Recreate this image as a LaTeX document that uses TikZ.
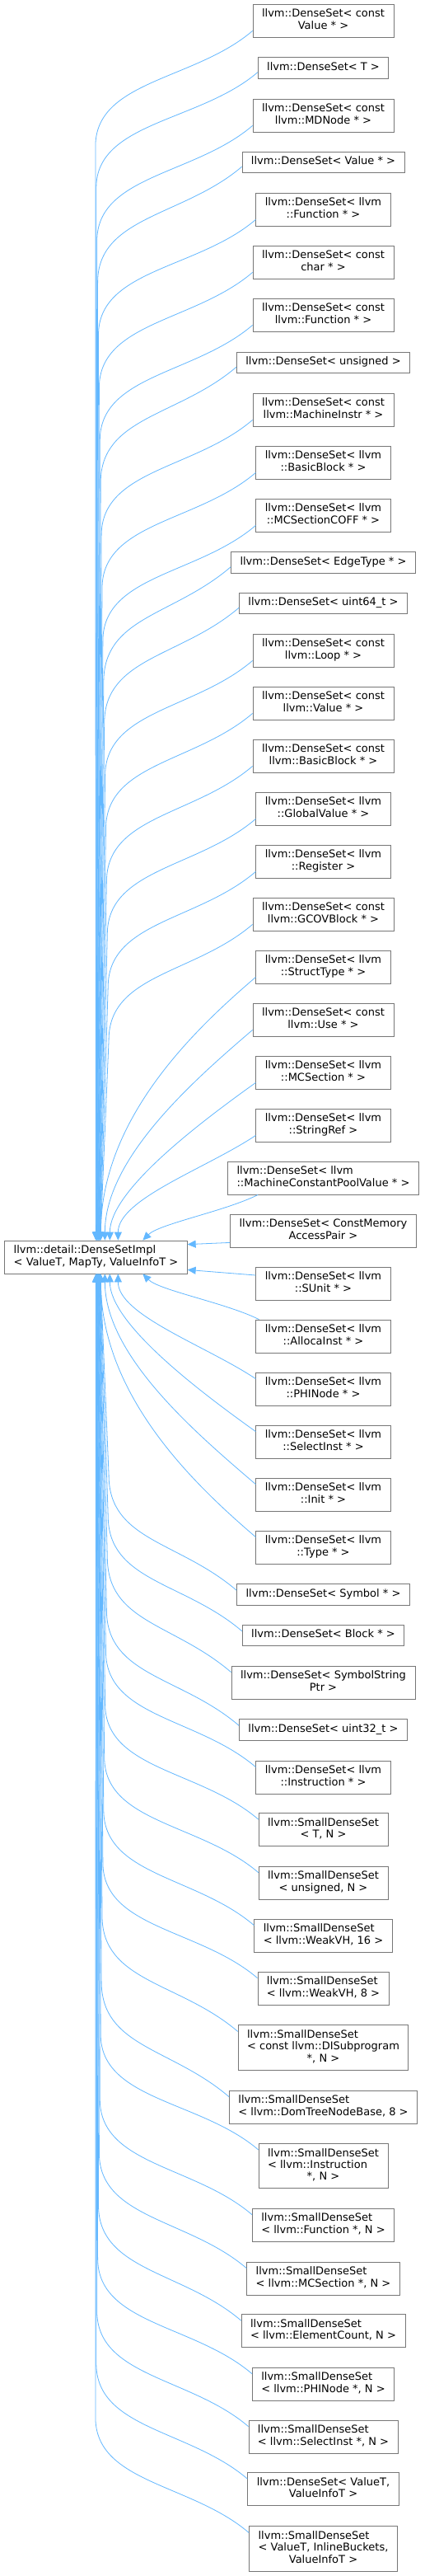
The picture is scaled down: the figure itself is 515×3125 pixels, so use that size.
\documentclass[tikz,border=0pt]{standalone}
\usepackage{fontspec}
\setmainfont{DejaVu Sans}
\usetikzlibrary{arrows.meta,calc}
\definecolor{edgeblue}{HTML}{63B8FF}
\definecolor{boxgray}{HTML}{777777}
\newcommand{\cls}[1]{\begin{tabular}{@{}l@{}}#1\end{tabular}}
\newcommand{\lastln}[1]{\multicolumn{1}{@{}c@{}}{#1}}

\begin{document}
\begin{tikzpicture}[
			x=1pt, y=-1pt,
			every node/.style = {font=\fontsize{13}{14.3}\selectfont},
			klass/.style      = {draw=boxgray, fill=white, line width=0.8pt, inner xsep=11pt, inner ysep=5.7pt},
			inh/.style        = {draw=edgeblue, line width=0.8pt, {Triangle[length=10pt,width=9pt]}-}
			]
			\useasboundingbox[fill=white] (0,0) rectangle (515,3125);
			
			%--- base class ---
			\node[klass] (base) at (116.5,1525) {\cls{llvm::detail::DenseSetImpl\\\lastln{< ValueT, MapTy, ValueInfoT >}}};
			
			%--- derived classes ---
			\node[klass] (d1)  at (392.5,25)   {\cls{llvm::DenseSet< const\\\lastln{Value * >}}};
			\node[klass] (d2)  at (392.5,82.5) {\cls{llvm::DenseSet< T >}};
			\node[klass] (d3)  at (392.5,140)  {\cls{llvm::DenseSet< const\\\lastln{llvm::MDNode * >}}};
			\node[klass] (d4)  at (392.5,197)  {\cls{llvm::DenseSet< Value * >}};
			\node[klass] (d5)  at (392.5,254)  {\cls{llvm::DenseSet< llvm\\\lastln{::Function * >}}};
			\node[klass] (d6)  at (392.5,318)  {\cls{llvm::DenseSet< const\\\lastln{char * >}}};
			\node[klass] (d7)  at (392.5,382)  {\cls{llvm::DenseSet< const\\\lastln{llvm::Function * >}}};
			\node[klass] (d8)  at (392.5,440)  {\cls{llvm::DenseSet< unsigned >}};
			\node[klass] (d9)  at (392.5,497)  {\cls{llvm::DenseSet< const\\\lastln{llvm::MachineInstr * >}}};
			\node[klass] (d10) at (392.5,561)  {\cls{llvm::DenseSet< llvm\\\lastln{::BasicBlock * >}}};
			\node[klass] (d11) at (392.5,625)  {\cls{llvm::DenseSet< llvm\\\lastln{::MCSectionCOFF * >}}};
			\node[klass] (d12) at (392.5,682.5){\cls{llvm::DenseSet< EdgeType * >}};
			\node[klass] (d13) at (392.5,732)  {\cls{llvm::DenseSet< uint64\_t >}};
			\node[klass] (d14) at (392.5,789)  {\cls{llvm::DenseSet< const\\\lastln{llvm::Loop * >}}};
			\node[klass] (d15) at (392.5,853)  {\cls{llvm::DenseSet< const\\\lastln{llvm::Value * >}}};
			\node[klass] (d16) at (392.5,917)  {\cls{llvm::DenseSet< const\\\lastln{llvm::BasicBlock * >}}};
			\node[klass] (d17) at (392.5,981)  {\cls{llvm::DenseSet< llvm\\\lastln{::GlobalValue * >}}};
			\node[klass] (d18) at (392.5,1045) {\cls{llvm::DenseSet< llvm\\\lastln{::Register >}}};
			\node[klass] (d19) at (392.5,1109) {\cls{llvm::DenseSet< const\\\lastln{llvm::GCOVBlock * >}}};
			\node[klass] (d20) at (392.5,1173) {\cls{llvm::DenseSet< llvm\\\lastln{::StructType * >}}};
			\node[klass] (d21) at (392.5,1237) {\cls{llvm::DenseSet< const\\\lastln{llvm::Use * >}}};
			\node[klass] (d22) at (392.5,1301) {\cls{llvm::DenseSet< llvm\\\lastln{::MCSection * >}}};
			\node[klass] (d23) at (392.5,1365) {\cls{llvm::DenseSet< llvm\\\lastln{::StringRef >}}};
			\node[klass] (d24) at (392.5,1429) {\cls{llvm::DenseSet< llvm\\\lastln{::MachineConstantPoolValue * >}}};
			\node[klass] (d25) at (392.5,1493) {\cls{llvm::DenseSet< ConstMemory\\\lastln{AccessPair >}}};
			\node[klass] (d26) at (392.5,1557) {\cls{llvm::DenseSet< llvm\\\lastln{::SUnit * >}}};
			\node[klass] (d27) at (392.5,1621) {\cls{llvm::DenseSet< llvm\\\lastln{::AllocaInst * >}}};
			\node[klass] (d28) at (392.5,1685) {\cls{llvm::DenseSet< llvm\\\lastln{::PHINode * >}}};
			\node[klass] (d29) at (392.5,1749) {\cls{llvm::DenseSet< llvm\\\lastln{::SelectInst * >}}};
			\node[klass] (d30) at (392.5,1813) {\cls{llvm::DenseSet< llvm\\\lastln{::Init * >}}};
			\node[klass] (d31) at (392.5,1877) {\cls{llvm::DenseSet< llvm\\\lastln{::Type * >}}};
			\node[klass] (d32) at (392.5,1934.5){\cls{llvm::DenseSet< Symbol * >}};
			\node[klass] (d33) at (392.5,1984) {\cls{llvm::DenseSet< Block * >}};
			\node[klass] (d34) at (392.5,2041) {\cls{llvm::DenseSet< SymbolString\\\lastln{Ptr >}}};
			\node[klass] (d35) at (392.5,2098.5){\cls{llvm::DenseSet< uint32\_t >}};
			\node[klass] (d36) at (392.5,2156) {\cls{llvm::DenseSet< llvm\\\lastln{::Instruction * >}}};
			\node[klass] (d37) at (392.5,2219.5){\cls{llvm::SmallDenseSet\\\lastln{< T, N >}}};
			\node[klass] (d38) at (392.5,2284) {\cls{llvm::SmallDenseSet\\\lastln{< unsigned, N >}}};
			\node[klass] (d39) at (392.5,2348) {\cls{llvm::SmallDenseSet\\\lastln{< llvm::WeakVH, 16 >}}};
			\node[klass] (d40) at (392.5,2412) {\cls{llvm::SmallDenseSet\\\lastln{< llvm::WeakVH, 8 >}}};
			\node[klass] (d41) at (392.5,2484) {\cls{llvm::SmallDenseSet\\< const llvm::DISubprogram\\\lastln{*, N >}}};
			\node[klass] (d42) at (392.5,2556) {\cls{llvm::SmallDenseSet\\\lastln{< llvm::DomTreeNodeBase, 8 >}}};
			\node[klass] (d43) at (392.5,2627.5){\cls{llvm::SmallDenseSet\\< llvm::Instruction\\\lastln{*, N >}}};
			\node[klass] (d44) at (392.5,2699) {\cls{llvm::SmallDenseSet\\\lastln{< llvm::Function *, N >}}};
			\node[klass] (d45) at (392.5,2764) {\cls{llvm::SmallDenseSet\\\lastln{< llvm::MCSection *, N >}}};
			\node[klass] (d46) at (392.5,2827.5){\cls{llvm::SmallDenseSet\\\lastln{< llvm::ElementCount, N >}}};
			\node[klass] (d47) at (392.5,2892) {\cls{llvm::SmallDenseSet\\\lastln{< llvm::PHINode *, N >}}};
			\node[klass] (d48) at (392.5,2956) {\cls{llvm::SmallDenseSet\\\lastln{< llvm::SelectInst *, N >}}};
			\node[klass] (d49) at (392.5,3019.5){\cls{llvm::DenseSet< ValueT,\\\lastln{ValueInfoT >}}};
			\node[klass] (d50) at (392.5,3092) {\cls{llvm::SmallDenseSet\\< ValueT, InlineBuckets,\\\lastln{ValueInfoT >}}};
			
			%--- inheritance (upper fan) ---
			\foreach \i in {1,...,19}{
				\pgfmathsetmacro\xo{110.7+0.3*\i}
				\pgfmathsetmacro\xj{115+0.9*\i}
				\draw[inh] let \p1 = (d\i.south west) in
					([xshift=\xo pt]base.north west) -- (\xj pt, \y1-132pt)
					.. controls +(0,-80) and +(-70,60) .. ([yshift=8pt]d\i.south west);
			}
			\draw[inh] ([xshift=117pt]base.north west) .. controls +(0,-150) and +(-70,60) .. ([yshift=8pt]d20.south west);
			\draw[inh] ([xshift=122pt]base.north west) .. controls +(0,-100) and +(-70,60) .. ([yshift=8pt]d21.south west);
			\draw[inh] ([xshift=128pt]base.north west) .. controls +(0,-60) and +(-70,50) .. ([yshift=8pt]d22.south west);
			\draw[inh] ([xshift=138pt]base.north west) .. controls +(0,-50) and +(-60,40) .. ([yshift=8pt]d23.south west);
			\draw[inh] ([xshift=168pt]base.north west) .. controls +(20,-20) and +(-40,20) .. ([xshift=37pt]d24.south west);
			
			%--- inheritance (side) ---
			\draw[inh] ([yshift=-5pt]base.north east) -- ([yshift=6pt]d25.south west);
			\draw[inh] ([yshift=5pt]base.south east) -- ([yshift=10pt]d26.west);
			
			%--- inheritance (lower fan) ---
			\draw[inh] ([xshift=168pt]base.south west) .. controls +(20,20) and +(-40,-20) .. ([xshift=4pt]d27.north west);
			\draw[inh] ([xshift=138pt]base.south west) .. controls +(0,50) and +(-60,-40) .. ([yshift=-8pt]d28.north west);
			\draw[inh] ([xshift=128pt]base.south west) .. controls +(0,60) and +(-70,-50) .. ([yshift=-8pt]d29.north west);
			\draw[inh] ([xshift=122pt]base.south west) .. controls +(0,100) and +(-70,-60) .. ([yshift=-8pt]d30.north west);
			\draw[inh] ([xshift=117pt]base.south west) .. controls +(0,150) and +(-70,-60) .. ([yshift=-8pt]d31.north west);
			\foreach \i in {32,...,50}{
				\pgfmathsetmacro\xo{110.7+0.3*(51-\i)}
				\pgfmathsetmacro\xj{115+0.9*(51-\i)}
				\draw[inh] let \p1 = (d\i.north west) in
					([xshift=\xo pt]base.south west) -- (\xj pt, \y1+132pt)
					.. controls +(0,80) and +(-70,-60) .. ([yshift=-8pt]d\i.north west);
			}
		\end{tikzpicture}
\end{document}
